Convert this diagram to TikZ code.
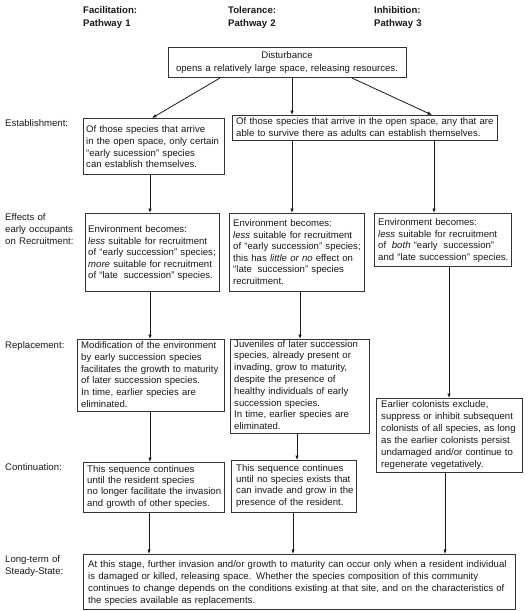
\documentclass[tikz,border=0pt]{standalone}
\usepackage{fontspec}
\setmainfont{Liberation Sans}
\usetikzlibrary{arrows.meta}
\definecolor{ink}{HTML}{1A1718}
\definecolor{boxc}{HTML}{333333}
\tikzset{
  box/.style={draw=boxc, line width=1pt, inner sep=0pt, anchor=north west},
  txt/.style={anchor=base west, inner sep=0pt, align=left, text width=300pt, text=ink, font=\fontsize{9.6}{11.8}\selectfont},
  head/.style={txt, font=\fontsize{9.6}{13}\selectfont\bfseries},
  arr/.style={draw=ink, line width=0.8pt, -{Latex[length=4.5pt,width=3.6pt]}},
}
\begin{document}
\begin{tikzpicture}[x=1pt,y=-1pt]
\useasboundingbox (0,0) rectangle (528,611);
% headers
\node[head] (h1) at (83,13) {Facilitation:\\Pathway 1};
\node[head] (h2) at (228,13) {Tolerance:\\Pathway 2};
\node[head] (h3) at (374,13) {Inhibition:\\Pathway 3};
% left labels
\node[txt] (l1) at (5,126.5) {Establishment:};
\node[txt] (l2) at (5,220.5) {Effects of\\early occupants\\on Recruitment:};
\node[txt] (l3) at (5,348.5) {Replacement:};
\node[txt] (l4) at (5,470.5) {Continuation:};
\node[txt, font=\fontsize{9.6}{12}\selectfont] (l5) at (5,562.5) {Long-term of\\Steady-State:};
% boxes
\node[box, minimum width=238pt, minimum height=30pt] (d) at (168,47) {};
\node[txt, anchor=base, align=center, text width=236pt, font=\fontsize{9.6}{12.8}\selectfont] (td) at (287,58.5) {Disturbance\\opens a relatively large space, releasing resources.};

\node[box, minimum width=141pt, minimum height=56pt] (e1) at (83,118) {};
\node[txt] (te1) at (86,132.5) {Of those species that arrive\\in the open space, only certain\\“early sucession” species\\can establish themselves.};

\node[box, minimum width=265pt, minimum height=25pt] (e2) at (232,115) {};
\node[txt] (te2) at (236,124.5) {Of those species that arrive in the open space, any that are\\able to survive there as adults can establish themselves.};

\node[box, minimum width=134pt, minimum height=78pt] (f1) at (85,213) {};
\node[txt, font=\fontsize{9.6}{11.5}\selectfont] (tf1) at (88,232.5) {Environment becomes:\\\textit{less} suitable for recruitment\\of “early succession” species;\\\textit{more} suitable for recruitment\\of “late\hspace{2.5pt} succession” species.};

\node[box, minimum width=135pt, minimum height=78pt] (f2) at (229,213) {};
\node[txt, font=\fontsize{9.6}{11.5}\selectfont] (tf2) at (233,226.5) {Environment becomes:\\\textit{less} suitable for recruitment\\of “early succession” species;\\this has \textit{little or no} effect on\\“late\hspace{2.5pt} succession” species\\recruitment.};

\node[box, minimum width=137pt, minimum height=53pt] (f3) at (374,213) {};
\node[txt, font=\fontsize{9.6}{11.6}\selectfont] (tf3) at (378,225.5) {Environment becomes:\\\textit{less} suitable for recruitment\\of\hspace{2.5pt} \textit{both} “early\hspace{2.5pt} succession”\\and “late succession” species.};

\node[box, minimum width=147pt, minimum height=72pt] (r1) at (77,339) {};
\node[txt] (tr1) at (81,348.5) {Modification of the environment\\by early succession species\\facilitates the growth to maturity\\of later succession species.\\In time, earlier species are\\eliminated.};

\node[box, minimum width=139pt, minimum height=94pt] (r2) at (230,339) {};
\node[txt] (tr2) at (234,347) {Juveniles of later succession\\species, already present or\\invading, grow to maturity,\\despite the presence of\\healthy individuals of early\\succession species.\\In time, earlier species are\\eliminated.};

\node[box, minimum width=146pt, minimum height=74pt] (r3) at (376,398) {};
\node[txt, font=\fontsize{9.6}{12.1}\selectfont] (tr3) at (381,407) {Earlier colonists exclude,\\suppress or inhibit subsequent\\colonists of all species, as long\\as the earlier colonists persist\\undamaged and/or continue to\\regenerate vegetatively.};

\node[box, minimum width=141pt, minimum height=50pt] (c1) at (83,462) {};
\node[txt, font=\fontsize{9.6}{11.4}\selectfont] (tc1) at (87,472) {This sequence continues\\until the resident species\\no longer facilitate the invasion\\and growth of other species.};

\node[box, minimum width=125pt, minimum height=52pt] (c2) at (231,460) {};
\node[txt, font=\fontsize{9.6}{11.4}\selectfont] (tc2) at (236,471) {This sequence continues\\until no species exists that\\can invade and grow in the\\presence of the resident.};

\node[box, minimum width=432pt, minimum height=55pt] (s) at (83,554) {};
\node[txt, text width=430pt, font=\fontsize{9.6}{12.1}\selectfont] (ts) at (88,567) {At this stage, further invasion and/or growth to maturity can occur only when a resident individual\\is damaged or killed, releasing space. Whether the species composition of this community\\continues to change depends on the conditions existing at that site, and on the characteristics of\\the species available as replacements.};

% connectors
\draw[arr] ([xshift=52pt]d.south west) -- ([xshift=69pt]e1.north west);
\draw[arr] ([xshift=124pt]d.south west) -- ([xshift=60pt]e2.north west);
\draw[arr] ([xshift=184pt]d.south west) -- ([xshift=200pt]e2.north west);
\draw[arr] ([xshift=67pt]e1.south west) -- ([xshift=65pt]f1.north west);
\draw[arr] ([xshift=60pt]e2.south west) -- ([xshift=63pt]f2.north west);
\draw[arr] ([xshift=202pt]e2.south west) -- ([xshift=60pt]f3.north west);
\draw[arr] ([xshift=65pt]f1.south west) -- ([xshift=73pt]r1.north west);
\draw[arr] ([xshift=71pt]f2.south west) -- ([xshift=70pt]r2.north west);
\draw[arr] ([xshift=75pt]f3.south west) -- ([xshift=73pt]r3.north west);
\draw[arr] ([xshift=73pt]r1.south west) -- ([xshift=67pt]c1.north west);
\draw[arr] ([xshift=67pt]r2.south west) -- ([xshift=66pt]c2.north west);
\draw[arr] ([xshift=66pt]c1.south west) -- ([xshift=66pt]s.north west);
\draw[arr] ([xshift=62pt]c2.south west) -- ([xshift=210pt]s.north west);
\draw[arr] ([xshift=69pt]r3.south west) -- ([xshift=362pt]s.north west);
\end{tikzpicture}
\end{document}
